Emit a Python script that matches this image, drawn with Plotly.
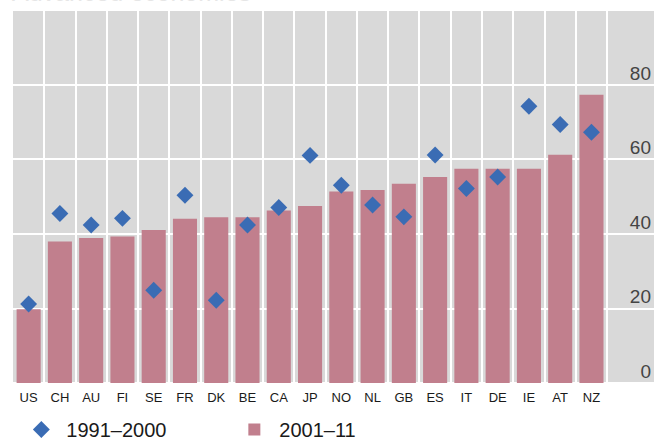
import plotly.graph_objects as go

categories = ["US", "CH", "AU", "FI", "SE", "FR", "DK", "BE", "CA", "JP",
              "NO", "NL", "GB", "ES", "IT", "DE", "IE", "AT", "NZ"]
values_2001_11 = [19.8, 38.0, 38.9, 39.3, 41.1, 44.1, 44.5, 44.5, 46.3, 47.5,
                  51.4, 51.8, 53.5, 55.3, 57.5, 57.5, 57.5, 61.3, 77.4]
values_1991_2000 = [21.2, 45.5, 42.4, 44.2, 24.9, 50.4, 22.2, 42.4, 47.1, 61.1,
                    53.1, 47.8, 44.6, 61.2, 52.2, 55.3, 74.3, 69.4, 67.3]
y_ticks = [0, 20, 40, 60, 80, 100]
y_tick_labels = ["0", "20", "40", "60", "80", ""]

fig = go.Figure()
fig.add_trace(go.Scatter(
    x=categories, y=values_1991_2000, mode="markers", name="1991–2000",
    marker=dict(symbol="diamond", size=13, color="#3a6cb4"),
))
fig.add_trace(go.Bar(
    x=categories, y=values_2001_11, name="2001–11", width=0.77,
    marker=dict(color="#c17f8d", line=dict(width=0)),
))

fig.update_layout(
    width=654, height=441,
    margin=dict(l=13, r=0, t=9, b=58),
    paper_bgcolor="white", plot_bgcolor="#d9d9d9",
    font=dict(family="Liberation Sans, Arial, sans-serif", color="#1a1a1a"),
    showlegend=True,
    legend=dict(orientation="h", xref="container", yref="container",
                x=0.025, y=0.026, xanchor="left", yanchor="middle",
                font=dict(size=20), entrywidth=158, itemwidth=40,
                traceorder="normal", bgcolor="rgba(0,0,0,0)"),
    bargap=0.2,
)
fig.update_xaxes(
    type="category", range=[-0.5, 20.0], tickson="boundaries",
    showgrid=True, gridcolor="white", gridwidth=2, ticks="",
    ticklabelstandoff=5,
    tickfont=dict(size=13, family="Liberation Sans Narrow, Arial Narrow, Liberation Sans"),
    showline=False, zeroline=False,
)
fig.update_yaxes(
    range=[0, 100.4], tickvals=y_ticks, ticktext=y_tick_labels,
    side="right", ticklabelposition="inside", ticklabelshift=-12,
    ticklabelstandoff=0, ticklabeloverflow="allow",
    showgrid=True, gridcolor="white", gridwidth=2, ticks="",
    zeroline=True, zerolinecolor="white", zerolinewidth=2,
    tickfont=dict(size=19), showline=False,
)
fig.add_annotation(
    text="Advanced economies", xref="paper", yref="paper",
    x=-0.005, y=1.003, xanchor="left", yanchor="bottom", showarrow=False,
    font=dict(size=25, color="#e6e6e6"),
)

fig.write_html("out.html", config={"displayModeBar": False},
               post_script="document.body.style.margin='0';")
